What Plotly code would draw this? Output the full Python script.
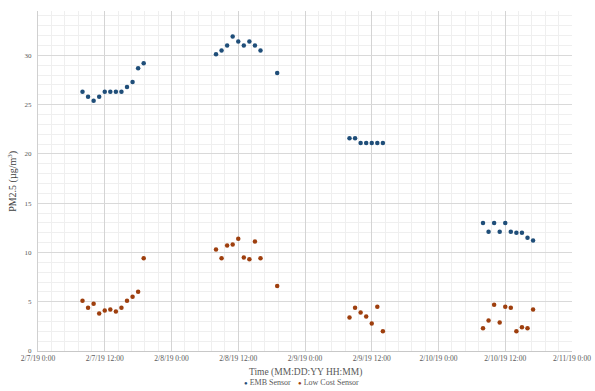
import plotly.graph_objects as go

# ---- data ----
emb_times = (
    [f"2019-02-07 {h:02d}:00" for h in range(8, 20)]
    + [f"2019-02-08 {h:02d}:00" for h in range(8, 17)] + ["2019-02-08 19:00"]
    + [f"2019-02-09 {h:02d}:00" for h in range(8, 15)]
    + [f"2019-02-10 {h:02d}:00" for h in range(8, 18)]
)
emb_values = [
    26.3, 25.8, 25.4, 25.8, 26.3, 26.3, 26.3, 26.3, 26.8, 27.3, 28.7, 29.2,
    30.1, 30.5, 31.0, 31.9, 31.4, 31.0, 31.4, 31.0, 30.5, 28.2,
    21.6, 21.6, 21.1, 21.1, 21.1, 21.1, 21.1,
    13.0, 12.1, 13.0, 12.1, 13.0, 12.1, 12.0, 12.0, 11.5, 11.2,
]
lc_times = emb_times
lc_values = [
    5.1, 4.4, 4.8, 3.8, 4.1, 4.2, 4.0, 4.4, 5.1, 5.5, 6.0, 9.4,
    10.3, 9.4, 10.7, 10.8, 11.4, 9.5, 9.3, 11.1, 9.4, 6.6,
    3.4, 4.4, 3.9, 3.5, 2.8, 4.5, 2.0,
    2.3, 3.1, 4.7, 2.9, 4.5, 4.4, 2.0, 2.4, 2.3, 4.2,
]
tick_vals = [
    "2019-02-07 00:00", "2019-02-07 12:00", "2019-02-08 00:00", "2019-02-08 12:00",
    "2019-02-09 00:00", "2019-02-09 12:00", "2019-02-10 00:00", "2019-02-10 12:00",
    "2019-02-11 00:00",
]
tick_text = [
    "2/7/19 0:00", "2/7/19 12:00", "2/8/19 0:00", "2/8/19 12:00",
    "2/9/19 0:00", "2/9/19 12:00", "2/10/19 0:00", "2/10/19 12:00",
    "2/11/19 0:00",
]
y_ticks = [0, 5, 10, 15, 20, 25, 30]
series_names = ["EMB Sensor", "Low Cost Sensor"]
series_colors = ["#1F4E79", "#9E3F0E"]

FONT = "Liberation Serif, Times New Roman, serif"

fig = go.Figure()
fig.add_trace(go.Scatter(
    x=emb_times, y=emb_values, mode="markers", name=series_names[0],
    marker=dict(color=series_colors[0], size=4.5), showlegend=False,
))
fig.add_trace(go.Scatter(
    x=lc_times, y=lc_values, mode="markers", name=series_names[1],
    marker=dict(color=series_colors[1], size=4.5), showlegend=False,
))

fig.update_layout(
    width=595, height=391,
    margin=dict(l=38, r=23, t=11, b=40, autoexpand=False),
    plot_bgcolor="white", paper_bgcolor="white",
    font=dict(family=FONT, size=7, color="#595959"),
    showlegend=False,
)
fig.update_xaxes(
    type="date", automargin=False,
    range=["2019-02-07 00:00", "2019-02-11 00:00"],
    tickmode="array", tickvals=tick_vals, ticktext=tick_text,
    tickfont=dict(size=7.5, family=FONT, color="#595959"),
    showgrid=True, gridcolor="#d4d4d4", gridwidth=1,
    showline=True, linecolor="#c8c8c8", linewidth=1,
    ticks="", ticklen=0,
    minor=dict(showgrid=True, gridcolor="#efefef", dtick=8640000, tick0="2019-02-07 00:00"),
    zeroline=False,
)
fig.update_yaxes(
    range=[0, 34.5], automargin=False,
    tickmode="array", tickvals=y_ticks,
    tickfont=dict(size=7, family=FONT, color="#595959"),
    showgrid=True, gridcolor="#d9d9d9", gridwidth=1,
    showline=True, linecolor="#d0d0d0", linewidth=1,
    ticks="", ticklen=0, ticklabelstandoff=4,
    minor=dict(showgrid=True, gridcolor="#efefef", dtick=1),
    zeroline=False,
)
fig.add_annotation(
    text="Time (MM:DD:YY HH:MM)", xref="paper", yref="paper",
    x=0.5, y=-0.062, xanchor="center", yanchor="middle", showarrow=False,
    font=dict(size=9.5, family=FONT, color="#595959"),
)
fig.add_annotation(
    text="PM2.5 (µg/m<sup>3</sup>)", xref="paper", yref="paper",
    x=-0.049, y=0.5, xanchor="center", yanchor="middle", showarrow=False,
    textangle=-90,
    font=dict(size=10, family=FONT, color="#404040"),
)
# legend (bottom, centered)
legend_x = [0.382, 0.484]
for name, color, lx in zip(series_names, series_colors, legend_x):
    fig.add_annotation(
        text=f"<span style='color:{color};font-size:6px'>●</span> {name}",
        xref="paper", yref="paper", x=lx, y=-0.092,
        xanchor="left", yanchor="middle", showarrow=False,
        font=dict(size=8, family=FONT, color="#595959"),
    )

fig.write_html(
    "out.html",
    config={"displayModeBar": False},
    post_script="document.body.style.margin='0';document.body.style.overflow='hidden';",
)
